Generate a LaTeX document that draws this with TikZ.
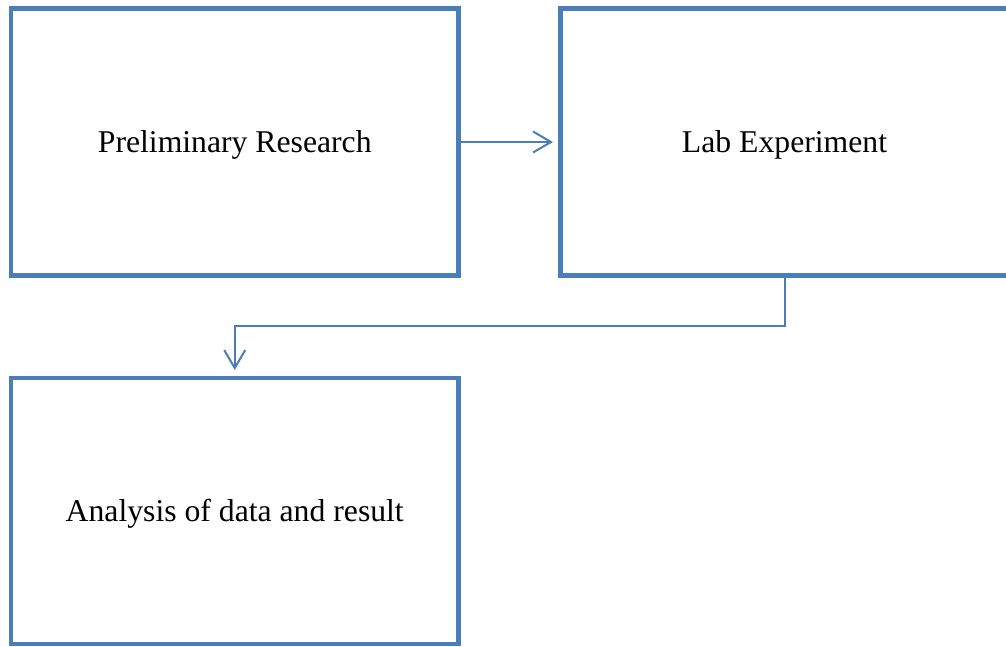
\documentclass[tikz,border=0pt]{standalone}
\usepackage{fontspec}
\setmainfont{Liberation Serif}
\usetikzlibrary{arrows.meta}
\definecolor{boxblue}{RGB}{74,126,187}
\begin{document}
\begin{tikzpicture}[x=1pt,y=-1pt,
  stagebox/.style={draw=boxblue, line width=4.5pt, rectangle, inner sep=0pt,
    text height=27.7pt, text depth=6.9pt,
    font=\fontsize{31.7}{38}\selectfont},
  flow/.style={draw=boxblue, line width=2pt,
    -{Straight Barb[length=18pt,width=21pt,line width=2pt]}}]
  \useasboundingbox (0,0) rectangle (1006,646);
  \fill[white] (0,0) rectangle (1006,646);
  % stage boxes
  \node[stagebox, minimum width=447.5pt, minimum height=267pt] (b1) at (234.75,142) {Preliminary Research};
  \node[stagebox, minimum width=448pt, minimum height=267pt] (b2) at (784.5,142) {Lab Experiment};
  \node[stagebox, minimum width=447.5pt, minimum height=266pt] (b3) at (234.75,511) {Analysis of data and result};
  % connectors
  \coordinate (elbow) at (234.75,326);
  \draw[flow, shorten >=5.25pt] (b1.east) -- (b2.west);
  \draw[flow, shorten >=5.75pt] (b2.south) |- (elbow) -- (b3.north);
\end{tikzpicture}
\end{document}
